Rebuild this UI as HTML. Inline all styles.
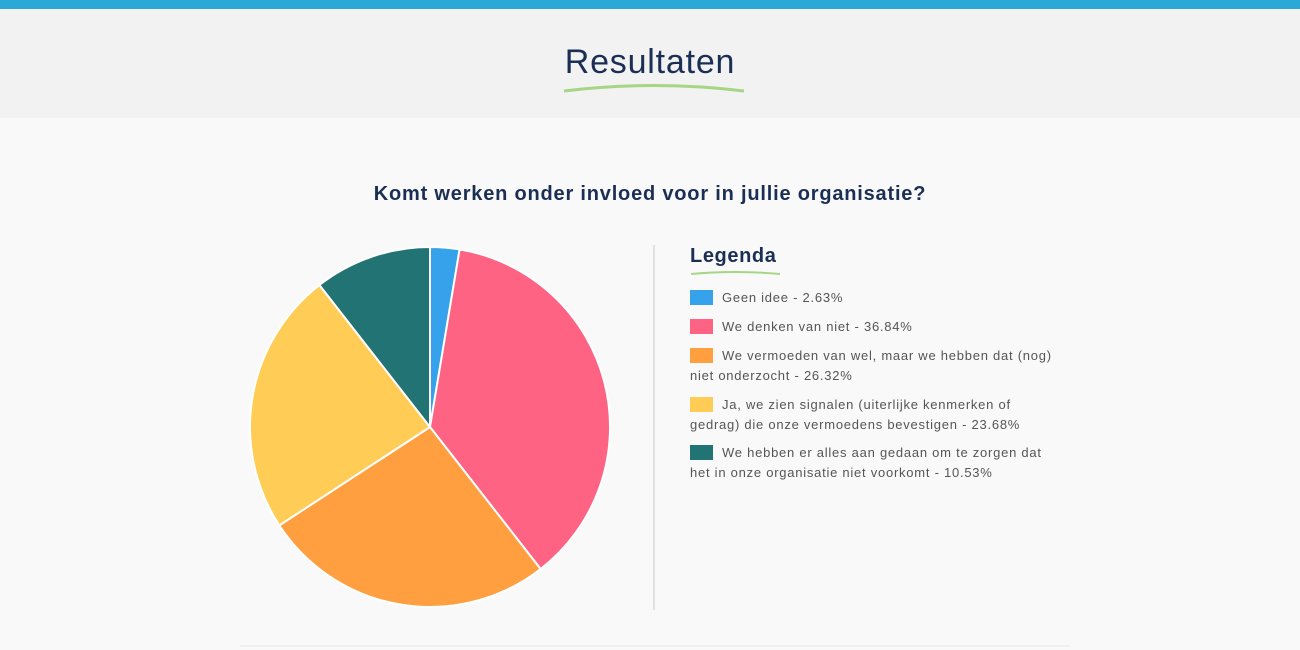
<!DOCTYPE html>
<html><head><style>
body{margin:0;width:1300px;height:650px;overflow:hidden;background:#f9f9f9;font-family:"Liberation Sans",sans-serif;position:relative}
.top{position:absolute;left:0;top:0;width:1300px;height:9px;background:#2aa9d6}
.hdr{position:absolute;left:0;top:9px;width:1300px;height:109px;background:#f2f2f2}
.t{position:absolute;left:0;width:1300px;text-align:center;color:#1b2f55}
.leg{position:absolute;left:690px;font-size:13px;letter-spacing:0.75px;color:#555;white-space:nowrap;line-height:20px}
.sw{display:inline-block;width:23px;height:15px;vertical-align:-3px;margin-right:9px}
</style></head><body>
<div class="top"></div><div class="hdr"></div>
<div class="t" style="top:43px;font-size:34px;letter-spacing:0.8px">Resultaten</div>
<svg style="position:absolute;left:0;top:0" width="1300" height="650">
<path d="M564 91 Q654 80 744 91" stroke="#a6d585" stroke-width="3" fill="none"/>
<path d="M691 274 Q735 270 780 274" stroke="#a6d585" stroke-width="2" fill="none"/>
<line x1="654" y1="245" x2="654" y2="610" stroke="#e2e2e2" stroke-width="2"/>
<line x1="240" y1="646" x2="1070" y2="646" stroke="#f0f0f0" stroke-width="2"/>
<g stroke="#fff" stroke-width="2">
<path d="M430 427 L430 247 A180 180 0 0 1 459.6 249.4Z" fill="#36a2eb"/>
<path d="M430 427 L459.6 249.4 A180 180 0 0 1 540.6 569Z" fill="#ff6384"/>
<path d="M430 427 L540.6 569 A180 180 0 0 1 279.3 525.4Z" fill="#ff9f40"/>
<path d="M430 427 L279.3 525.4 A180 180 0 0 1 319.4 285Z" fill="#ffcd56"/>
<path d="M430 427 L319.4 285 A180 180 0 0 1 430 247Z" fill="#227373"/>
</g></svg>
<div class="t" style="top:183px;font-size:20px;letter-spacing:0.8px;font-weight:bold">Komt werken onder invloed voor in jullie organisatie?</div>
<div style="position:absolute;left:690px;top:245px;font-size:20px;letter-spacing:0.6px;font-weight:bold;color:#1b2f55">Legenda</div>
<div class="leg" style="top:288px"><span class="sw" style="background:#36a2eb"></span>Geen idee - 2.63%</div>
<div class="leg" style="top:317px"><span class="sw" style="background:#ff6384"></span>We denken van niet - 36.84%</div>
<div class="leg" style="top:346px"><span class="sw" style="background:#ff9f40"></span>We vermoeden van wel, maar we hebben dat (nog)<br>niet onderzocht - 26.32%</div>
<div class="leg" style="top:395px"><span class="sw" style="background:#ffcd56"></span>Ja, we zien signalen (uiterlijke kenmerken of<br>gedrag) die onze vermoedens bevestigen - 23.68%</div>
<div class="leg" style="top:443px"><span class="sw" style="background:#227373"></span>We hebben er alles aan gedaan om te zorgen dat<br>het in onze organisatie niet voorkomt - 10.53%</div>
</body></html>
